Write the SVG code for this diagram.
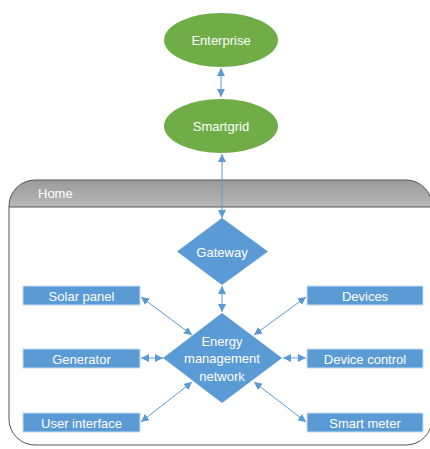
<svg xmlns="http://www.w3.org/2000/svg" width="430" height="449" viewBox="0 0 430 449">
<style>
.t{font-family:"Liberation Sans","Open Sans",sans-serif;font-size:13px;fill:#fff;text-anchor:middle;dominant-baseline:central}
.box{fill:#5B9BD5;stroke:#c8dcef;stroke-width:1}
.dia{fill:#5B9BD5}
.ell{fill:#70AD47}
.c{stroke:#5B9BD5;stroke-width:1;fill:none;marker-start:url(#a);marker-end:url(#a)}
</style>
<defs>
<marker id="a" viewBox="0 0 10 10" refX="10" refY="5" markerWidth="8" markerHeight="8" markerUnits="userSpaceOnUse" orient="auto-start-reverse">
<path d="M0,0 L10,5 L0,10 z" fill="#5B9BD5"/>
</marker>
<linearGradient id="hg" x1="0" y1="0" x2="0" y2="1">
<stop offset="0" stop-color="#9a9a9a"/>
<stop offset="1" stop-color="#b8b8b8"/>
</linearGradient>
<clipPath id="hc"><path d="M9,445 L9,206 A26,26 0 0 1 35,180 L406,180 A26,26 0 0 1 432,206 L432,445 Z"/></clipPath>
</defs>
<g id="home">
<rect x="9" y="180" width="423" height="27" fill="url(#hg)" clip-path="url(#hc)"/>
<path d="M9,419 L9,206 A26,26 0 0 1 35,180 L406,180 A26,26 0 0 1 432,206 L432,419 A26,26 0 0 1 406,445 L35,445 A26,26 0 0 1 9,419 Z" fill="none" stroke="#555" stroke-width="1"/>
<line x1="9" y1="207" x2="432" y2="207" stroke="#555" stroke-width="1"/>
<text x="38" y="193" class="t" style="text-anchor:start">Home</text>
</g>
<g id="connectors">
<line class="c" x1="221" y1="68" x2="221" y2="97"/>
<line class="c" x1="222" y1="154" x2="222" y2="218"/>
<line class="c" x1="222" y1="286" x2="222" y2="312"/>
<line class="c" x1="141" y1="297" x2="192" y2="335"/>
<line class="c" x1="141" y1="358" x2="163" y2="358"/>
<line class="c" x1="141" y1="422" x2="192" y2="382"/>
<line class="c" x1="306" y1="297" x2="254" y2="335"/>
<line class="c" x1="283" y1="358" x2="306" y2="358"/>
<line class="c" x1="306" y1="422" x2="254" y2="382"/>
</g>
<g id="enterprise"><ellipse class="ell" cx="221" cy="40" rx="57" ry="27"/><text class="t" x="221" y="40">Enterprise</text></g>
<g id="smartgrid"><ellipse class="ell" cx="221" cy="126" rx="57" ry="27"/><text class="t" x="221" y="126">Smartgrid</text></g>
<g id="gateway"><path class="dia" d="M222,218 L268,251.5 L222,285 L177,251.5 Z"/><text class="t" x="222" y="252">Gateway</text></g>
<g id="emn"><path class="dia" d="M222,313 L282,358 L222,403 L163,358 Z"/>
<text class="t" x="222" y="341">Energy</text><text class="t" x="222" y="358">management</text><text class="t" x="222" y="376">network</text></g>
<g id="solar"><rect class="box" x="23" y="286" width="117" height="19"/><text class="t" x="81.5" y="296">Solar panel</text></g>
<g id="generator"><rect class="box" x="23" y="349" width="117" height="19"/><text class="t" x="81.5" y="359">Generator</text></g>
<g id="ui"><rect class="box" x="23" y="413" width="117" height="19"/><text class="t" x="81.5" y="423">User interface</text></g>
<g id="devices"><rect class="box" x="307" y="286" width="116" height="19"/><text class="t" x="365" y="296">Devices</text></g>
<g id="devctl"><rect class="box" x="307" y="349" width="116" height="19"/><text class="t" x="365" y="359">Device control</text></g>
<g id="meter"><rect class="box" x="307" y="413" width="116" height="19"/><text class="t" x="365" y="423">Smart meter</text></g>
</svg>
